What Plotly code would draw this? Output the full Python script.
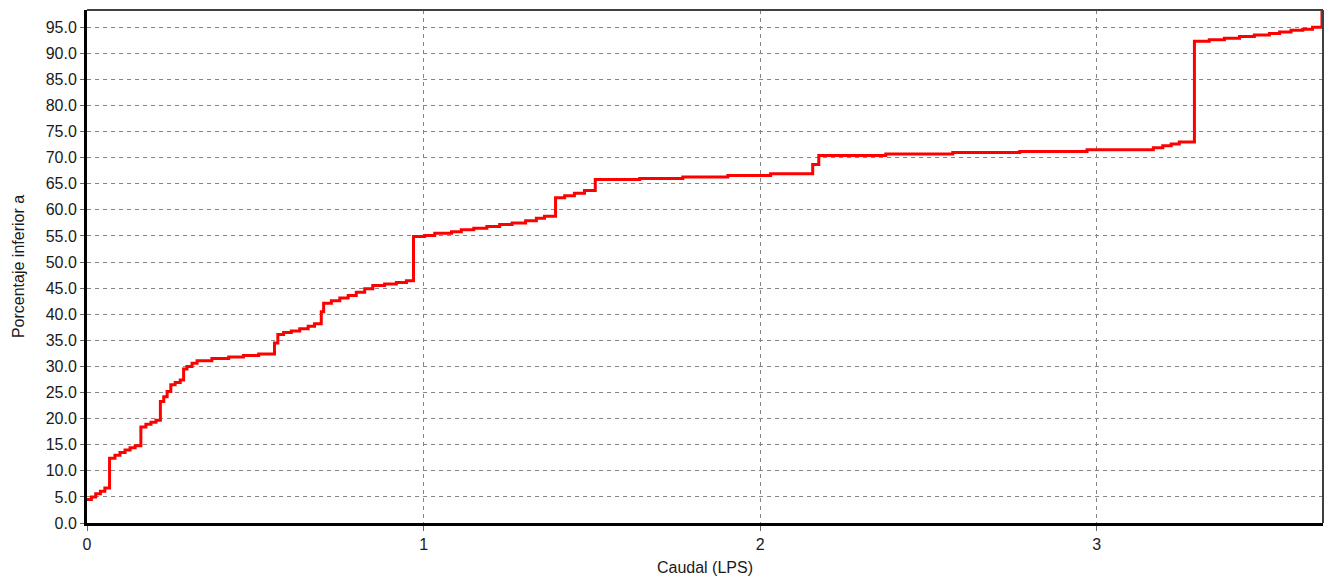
import plotly.graph_objects as go

# Curva de duración de caudales: caudal (LPS) vs porcentaje acumulado
caudal = [
    0.000, 0.013, 0.026, 0.040, 0.053, 0.067,
    0.083, 0.098, 0.113, 0.128, 0.143, 0.160,
    0.175, 0.190, 0.205, 0.218,
    0.228, 0.238, 0.249, 0.262, 0.277, 0.287,
    0.297, 0.312, 0.327, 0.371, 0.421, 0.465, 0.510,
    0.557, 0.567, 0.584, 0.607, 0.632, 0.657, 0.676,
    0.696, 0.703, 0.726, 0.751, 0.776, 0.800, 0.825, 0.849, 0.884, 0.919, 0.949,
    0.970, 1.003, 1.033, 1.083, 1.112, 1.149, 1.188, 1.226, 1.263, 1.303, 1.335, 1.359,
    1.392, 1.419, 1.448, 1.478,
    1.510, 1.642, 1.770, 1.904, 2.031, 2.156, 2.174,
    2.373, 2.572, 2.771, 2.971, 3.168, 3.196, 3.221, 3.245, 3.270,
    3.290, 3.334, 3.379, 3.424, 3.468, 3.513, 3.543, 3.577, 3.612, 3.641,
    3.669,
]
porcentaje = [
    4.5, 5.0, 5.6, 6.1, 6.7, 12.4,
    13.0, 13.5, 14.0, 14.4, 14.8, 18.4,
    18.9, 19.3, 19.7, 23.3,
    24.2, 25.2, 26.5, 26.9, 27.4, 29.5,
    30.0, 30.6, 31.1, 31.5, 31.8, 32.1, 32.4,
    34.5, 36.1, 36.5, 36.8, 37.2, 37.7, 38.2,
    40.5, 42.1, 42.6, 43.1, 43.6, 44.2, 44.9, 45.5, 45.8, 46.1, 46.4,
    54.9, 55.1, 55.5, 55.8, 56.2, 56.5, 56.8, 57.2, 57.5, 57.9, 58.4, 58.8,
    62.3, 62.7, 63.2, 63.7,
    65.8, 66.0, 66.3, 66.6, 66.9, 68.7, 70.4,
    70.7, 71.0, 71.2, 71.5, 71.9, 72.3, 72.6, 73.0, 73.0,
    92.3, 92.6, 92.9, 93.2, 93.5, 93.8, 94.1, 94.4, 94.6, 95.0,
    100.0,
]

x_ticks = [0, 1, 2, 3]
x_tick_text = ["0", "1", "2", "3"]
y_ticks = [v * 5 for v in range(20)]

font_family = "Liberation Sans, Arial, sans-serif"
text_color = "#1a1a1a"
grid_color = "#858585"

fig = go.Figure()
fig.add_trace(go.Scatter(
    x=caudal,
    y=porcentaje,
    mode="lines",
    line=dict(color="#ff0000", width=3, shape="hv"),
    showlegend=False,
    hoverinfo="x+y",
))

fig.update_layout(
    width=1329,
    height=581,
    margin=dict(l=87, r=6, t=10, b=58),
    paper_bgcolor="white",
    plot_bgcolor="white",
    font=dict(family=font_family, size=16, color=text_color),
    xaxis=dict(
        range=[0, 3.672],
        tickvals=x_ticks,
        ticktext=x_tick_text,
        showgrid=True,
        gridcolor=grid_color,
        gridwidth=1,
        griddash="4px,4px",
        zeroline=False,
        showline=True,
        linecolor="black",
        linewidth=3,
        ticks="outside",
        ticklen=5,
        tickcolor="#666666",
        tickfont=dict(size=16, color=text_color),
        title=dict(text="Caudal (LPS)", font=dict(size=16, color=text_color), standoff=10),
    ),
    yaxis=dict(
        range=[0, 98.3],
        tickvals=y_ticks,
        tickformat=".1f",
        showgrid=True,
        gridcolor=grid_color,
        gridwidth=1,
        griddash="4px,4px",
        zeroline=False,
        showline=True,
        linecolor="black",
        linewidth=3,
        ticks="outside",
        ticklen=4,
        tickcolor="#666666",
        tickfont=dict(size=16, color=text_color),
        title=dict(text="Porcentaje inferior a", font=dict(size=16, color=text_color), standoff=18),
    ),
)

# Marco superior y derecho del área de trazado
fig.add_shape(type="line", xref="paper", yref="paper", x0=0, x1=1, y0=1, y1=1,
              line=dict(color="#404040", width=2))
fig.add_shape(type="line", xref="paper", yref="paper", x0=1, x1=1, y0=0, y1=1,
              line=dict(color="#404040", width=2))

fig.write_html("out.html")
